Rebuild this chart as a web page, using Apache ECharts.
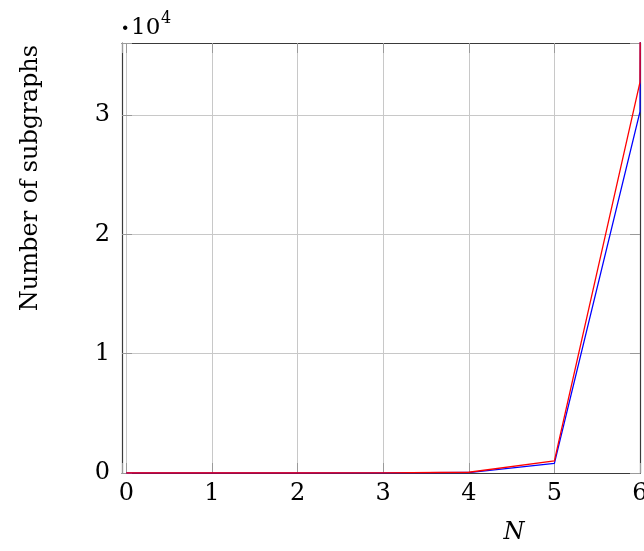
<!DOCTYPE html>
<html>
<head>
<meta charset="utf-8">
<script src="https://cdn.jsdelivr.net/npm/echarts@6/dist/echarts.min.js"></script>
<style>
html,body{margin:0;padding:0;background:#fff;}
#c{width:644px;height:551px;}
</style>
</head>
<body>
<div id="c"></div>
<script>
// Data
var N = [0, 1, 2, 3, 4, 5, 6, 7];
var blueValues = [1, 1, 2, 6, 40, 800, 30300, 1900000];
var redValues = [1, 1, 2, 8, 64, 1024, 32768, 2097152];
var xTickLabels = ['0', '1', '2', '3', '4', '5', '6'];
var yTickLabels = ['0', '1', '2', '3'];

var FONT = 'DejaVu Serif';
var chart = echarts.init(document.getElementById('c'), null, {renderer: 'canvas'});

function pairs(xs, ys) { return xs.map(function (x, i) { return [x, ys[i]]; }); }

var frame = {show: true, onZero: false, lineStyle: {color: '#3a3a3a', width: 1.2}};
var tick = {show: true, inside: true, length: 10, lineStyle: {color: '#9a9a9a', width: 1}};
var grid = {show: true, lineStyle: {color: '#c8c8c8', width: 1}};

function xLab(v) {
  var i = Math.round(v);
  return Math.abs(v - i) < 1e-6 && i >= 0 && i < xTickLabels.length ? xTickLabels[i] : '';
}
function yLab(v) {
  var i = Math.round(v / 10000);
  return Math.abs(v - i * 10000) < 1e-3 && i >= 0 && i < yTickLabels.length ? yTickLabels[i] : '';
}

chart.setOption({
  animation: false,
  grid: {left: 122, right: 4, top: 43, bottom: 78, containLabel: false, outerBoundsMode: 'none'},
  xAxis: [
    {type: 'value', position: 'bottom', min: -0.05, max: 6, splitNumber: 6,
     axisLine: frame, axisTick: tick, splitLine: grid,
     axisLabel: {formatter: xLab, margin: 9, color: '#000', fontFamily: FONT, fontSize: 24, hideOverlap: false}},
    {type: 'value', position: 'top', min: -0.05, max: 6, splitNumber: 6,
     axisLine: frame, axisTick: tick, splitLine: {show: false}, axisLabel: {show: false}}
  ],
  yAxis: [
    {type: 'value', position: 'left', min: 0, max: 36045, interval: 10000,
     axisLine: frame, axisTick: tick, splitLine: grid,
     axisLabel: {formatter: yLab, margin: 12, color: '#000', fontFamily: FONT, fontSize: 24}},
    {type: 'value', position: 'right', min: 0, max: 36045, interval: 10000,
     axisLine: frame, axisTick: tick, splitLine: {show: false}, axisLabel: {show: false}}
  ],
  series: [
    {type: 'line', data: pairs(N, blueValues), showSymbol: false, clip: true,
     lineStyle: {color: '#0000ff', width: 1.3}, itemStyle: {color: '#0000ff'}},
    {type: 'line', data: pairs(N, redValues), showSymbol: false, clip: true,
     lineStyle: {color: '#ff0000', width: 1.3}, itemStyle: {color: '#ff0000'}}
  ],
  graphic: [
    {type: 'text', x: 31, y: 178, rotation: Math.PI / 2,
     style: {text: 'Number of subgraphs', fill: '#000', font: '24px "' + FONT + '"',
             textAlign: 'center', textVerticalAlign: 'middle'}},
    {type: 'text', x: 514, y: 533,
     style: {text: 'N', fill: '#000', font: 'italic 24px "' + FONT + '"',
             textAlign: 'center', textVerticalAlign: 'middle'}},
    {type: 'text', x: 121, y: 30,
     style: {text: '·', fill: '#000', font: 'bold 24px "' + FONT + '"',
             textAlign: 'left', textVerticalAlign: 'middle'}},
    {type: 'text', x: 131, y: 28,
     style: {text: '10', fill: '#000', font: '23px "' + FONT + '"',
             textAlign: 'left', textVerticalAlign: 'middle'}},
    {type: 'text', x: 161, y: 19,
     style: {text: '4', fill: '#000', font: '16px "' + FONT + '"',
             textAlign: 'left', textVerticalAlign: 'middle'}}
  ]
});
</script>
</body>
</html>
